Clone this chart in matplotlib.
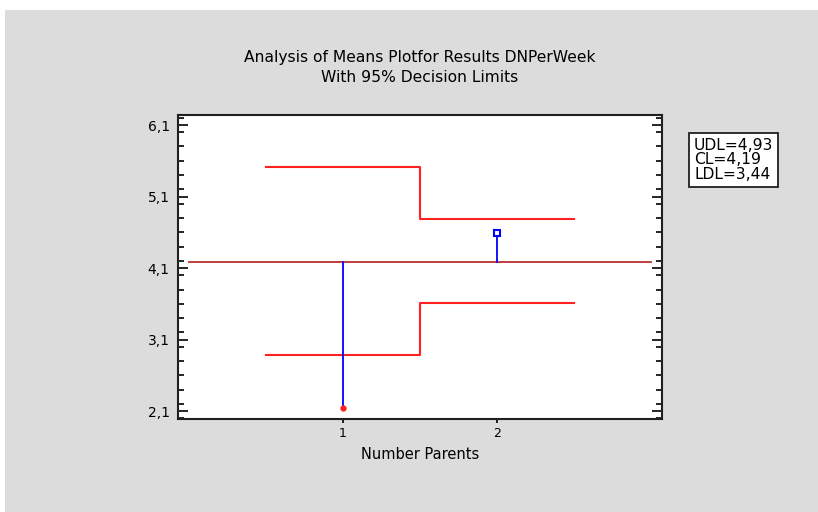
import matplotlib
matplotlib.use('Agg')
import matplotlib.pyplot as plt
from matplotlib.patches import Rectangle
from matplotlib.ticker import FixedLocator, MultipleLocator

plt.rcParams['font.family'] = ['DejaVu Sans']

# data
groups = [1, 2]
group_labels = ['1', '2']
means = [2.14, 4.59]
center_line = 4.19
upper_limits = [5.51, 4.78]
lower_limits = [2.88, 3.61]
limit_text = ['UDL=4,93', 'CL=4,19', 'LDL=3,44']
yticks = [2.1, 3.1, 4.1, 5.1, 6.1]
title = 'Analysis of Means Plotfor Results DNPerWeek\nWith 95% Decision Limits'
xlabel = 'Number Parents'

fig = plt.figure(figsize=(8.18, 5.12), dpi=100, facecolor='white')
# gray panel behind the chart
fig.patches.append(Rectangle((5/818, 0), 1, 1 - 10/512, transform=fig.transFigure,
                             facecolor='#dcdcdc', edgecolor='none', zorder=-10))

ax = fig.add_axes([178/818, 93/512, 484/818, 304/512])
ax.set_facecolor('white')

# center line over the full range
ax.plot([0, 3], [center_line, center_line], color='#b83030', lw=1.3, zorder=2)

# step decision limits
edges = [g - 0.5 for g in groups] + [groups[-1] + 0.5]
ax.step(edges, upper_limits + [upper_limits[-1]], where='post', color='#ff2020', lw=1.5, zorder=3)
ax.step(edges, lower_limits + [lower_limits[-1]], where='post', color='#ff2020', lw=1.5, zorder=3)

# stems from center line to group means
for g, m in zip(groups, means):
    ax.plot([g, g], [center_line, m], color='#0000ff', lw=1.3, zorder=4)
ax.plot(groups[0], means[0], marker='o', ms=3.5, color='#ff2020', mec='#ff2020', zorder=5)
ax.plot(groups[1], means[1], marker='s', ms=5, mfc='white', mec='#0000ff', mew=1.5, zorder=5)

ax.set_xlim(-0.07, 3.07)
ax.set_ylim(1.99, 6.24)

ax.yaxis.set_major_locator(FixedLocator(yticks))
ax.yaxis.set_minor_locator(MultipleLocator(0.2))
ax.set_yticklabels([str(t).replace('.', ',') for t in yticks], fontsize=10)
ax.tick_params(axis='y', which='major', direction='in', length=7, width=1.2,
               right=True, left=True, pad=6)
ax.tick_params(axis='y', which='minor', direction='in', length=4, width=1.2,
               right=True, left=True)
ax.set_xticks(groups)
ax.set_xticklabels(group_labels, fontsize=9)
ax.tick_params(axis='x', direction='out', length=3, width=1.2, pad=3)
for s in ax.spines.values():
    s.set_linewidth(1.5)
    s.set_color('#202020')

ax.set_xlabel(xlabel, fontsize=10.5, labelpad=5)
ax.set_title(title, fontsize=11.2, pad=24, linespacing=1.4)

fig.text(694/818, 1 - 160/512, '\n'.join(limit_text), fontsize=11.2, va='center',
         ha='left', linespacing=0.95,
         bbox=dict(boxstyle='square,pad=0.3', facecolor='white', edgecolor='#202020', lw=1.3))

fig.savefig('out.png', dpi=100, facecolor=fig.get_facecolor())
